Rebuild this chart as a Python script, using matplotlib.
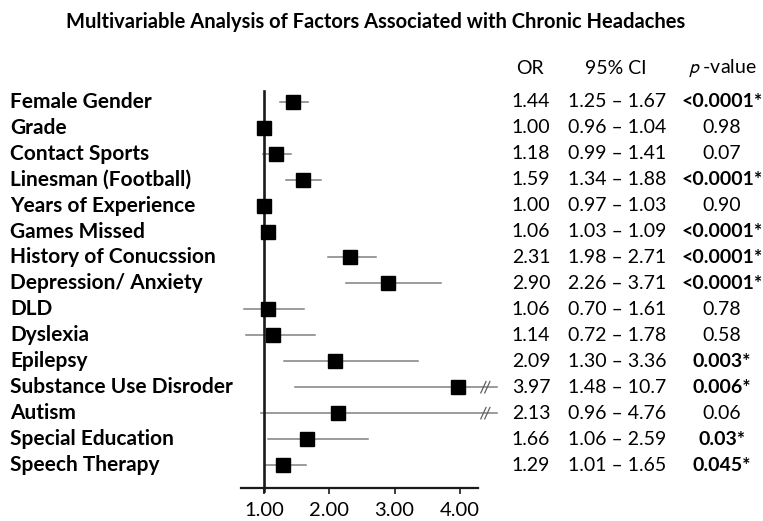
import matplotlib.pyplot as plt
from matplotlib.transforms import blended_transform_factory

plt.rcParams['font.family'] = ['Lato', 'DejaVu Sans']

factors = ['Female Gender', 'Grade', 'Contact Sports', 'Linesman (Football)',
           'Years of Experience', 'Games Missed', 'History of Conucssion',
           'Depression/ Anxiety', 'DLD', 'Dyslexia', 'Epilepsy',
           'Substance Use Disroder', 'Autism', 'Special Education', 'Speech Therapy']
odds = [1.44, 1.00, 1.18, 1.59, 1.00, 1.06, 2.31, 2.90, 1.06, 1.14, 2.09, 3.97, 2.13, 1.66, 1.29]
ci_low = [1.25, 0.96, 0.99, 1.34, 0.97, 1.03, 1.98, 2.26, 0.70, 0.72, 1.30, 1.48, 0.96, 1.06, 1.01]
ci_high = [1.67, 1.04, 1.41, 1.88, 1.03, 1.09, 2.71, 3.71, 1.61, 1.78, 3.36, 10.7, 4.76, 2.59, 1.65]
or_text = ['1.44', '1.00', '1.18', '1.59', '1.00', '1.06', '2.31', '2.90', '1.06', '1.14',
           '2.09', '3.97', '2.13', '1.66', '1.29']
ci_text = ['1.25 – 1.67', '0.96 – 1.04', '0.99 – 1.41', '1.34 – 1.88', '0.97 – 1.03',
           '1.03 – 1.09', '1.98 – 2.71', '2.26 – 3.71', '0.70 – 1.61', '0.72 – 1.78',
           '1.30 – 3.36', '1.48 – 10.7', '0.96 – 4.76', '1.06 – 2.59', '1.01 – 1.65']
p_text = ['<0.0001*', '0.98', '0.07', '<0.0001*', '0.90', '<0.0001*', '<0.0001*', '<0.0001*',
          '0.78', '0.58', '0.003*', '0.006*', '0.06', '0.03*', '0.045*']
xticks = [1, 2, 3, 4]
xtick_labels = ['1.00', '2.00', '3.00', '4.00']

fig = plt.figure(figsize=(7.63, 5.21), dpi=100)
ax = fig.add_axes([230 / 763, 0.0635, 270 / 763, 0.7721])
ax.set_xlim(0.4793, 4.6141)
ax.set_ylim(14.88, -0.62)

cap = 4.57
rows = range(len(factors))
for i in rows:
    hi = min(ci_high[i], cap)
    ax.plot([ci_low[i], hi], [i, i], color='#808080', lw=1.1, zorder=2)
    if ci_high[i] > cap:
        # break marks for truncated interval
        for dx in (-0.06, 0.0):
            xb = 4.42 + dx
            ax.plot([xb - 0.04, xb + 0.04], [i + 0.22, i - 0.22], color='#606060', lw=0.9, zorder=3)
ax.plot(odds, list(rows), 's', color='black', markersize=9.5, zorder=4)

ax.plot([1, 1], [-0.42, 15.0], color='#1a1a1a', lw=1.9, zorder=3, clip_on=False)

for s in ['top', 'right', 'left']:
    ax.spines[s].set_visible(False)
ax.spines['bottom'].set_bounds(0.648, 4.28)
ax.spines['bottom'].set_linewidth(1.6)
ax.spines['bottom'].set_color('#1a1a1a')
ax.set_yticks([])
ax.set_xticks(xticks)
ax.set_xticklabels(xtick_labels, fontsize=14.5)
ax.tick_params(axis='x', length=4, width=1.2, pad=6, color='#1a1a1a')

tr = blended_transform_factory(fig.transFigure, ax.transData)
for i in rows:
    ax.text(10 / 763, i, factors[i], transform=tr, ha='left', va='center',
            fontsize=15, fontweight='bold', clip_on=False)
    ax.text(531 / 763, i, or_text[i], transform=tr, ha='center', va='center', fontsize=14)
    ax.text(617 / 763, i, ci_text[i], transform=tr, ha='center', va='center', fontsize=14)
    bold = p_text[i].endswith('*')
    ax.text(722 / 763, i, p_text[i], transform=tr, ha='center', va='center', fontsize=14,
            fontweight='bold' if bold else 'normal')

fig.text(530 / 763, 1 - 68 / 521, 'OR', ha='center', va='center', fontsize=14)
fig.text(616 / 763, 1 - 68 / 521, '95% CI', ha='center', va='center', fontsize=14)
fig.text(722 / 763, 1 - 68 / 521, r'$\mathcal{p}$ -value', ha='center', va='center', fontsize=14)

fig.text(376 / 763, 1 - 22 / 521, 'Multivariable Analysis of Factors Associated with Chronic Headaches',
         ha='center', va='center', fontsize=14.5, fontweight='bold')

fig.savefig('out.png', dpi=100)
